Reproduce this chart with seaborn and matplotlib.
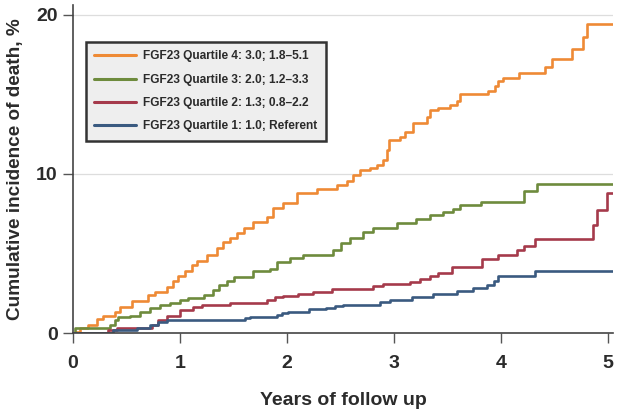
import numpy as np
import pandas as pd
import matplotlib
matplotlib.use("Agg")
import matplotlib.pyplot as plt
import seaborn as sns

labels = [
    "FGF23 Quartile 4: 3.0; 1.8\u20135.1",
    "FGF23 Quartile 3: 2.0; 1.2\u20133.3",
    "FGF23 Quartile 2: 1.3; 0.8\u20132.2",
    "FGF23 Quartile 1: 1.0; Referent",
]
colors = ["#EE8A35", "#6E8B3D", "#A53A4B", "#3A5A80"]

q4_t = [0.0, 0.02, 0.065, 0.14, 0.22, 0.28, 0.39, 0.44, 0.55, 0.70, 0.77, 0.88, 0.93, 0.98,
        1.05, 1.11, 1.16, 1.25, 1.35, 1.40, 1.47, 1.53, 1.60, 1.68, 1.81, 1.87, 1.96, 2.09,
        2.28, 2.47, 2.56, 2.62, 2.68, 2.78, 2.84, 2.90, 2.93, 2.95, 3.06, 3.10, 3.18, 3.31,
        3.34, 3.41, 3.52, 3.59, 3.62, 3.88, 3.94, 3.97, 4.02, 4.17, 4.41, 4.48, 4.66, 4.77,
        4.80, 5.05]
q4_v = [0.0, 0.1, 0.35, 0.5, 0.9, 1.05, 1.3, 1.65, 2.0, 2.4, 2.6, 2.9, 3.25, 3.6,
        3.9, 4.25, 4.5, 4.9, 5.35, 5.7, 6.0, 6.3, 6.6, 7.0, 7.3, 7.85, 8.2, 8.8,
        9.05, 9.3, 9.55, 9.9, 10.25, 10.4, 10.55, 10.9, 11.5, 12.1, 12.3, 12.6, 13.2, 13.6,
        14.0, 14.15, 14.3, 14.6, 15.0, 15.2, 15.5, 15.8, 16.0, 16.35, 16.7, 17.2, 17.85, 18.6,
        19.4, 19.4]

q3_t = [0.0, 0.02, 0.35, 0.39, 0.42, 0.53, 0.63, 0.72, 0.81, 0.91, 1.00, 1.07, 1.22, 1.31,
        1.36, 1.44, 1.50, 1.68, 1.84, 1.91, 2.03, 2.15, 2.43, 2.50, 2.59, 2.71, 2.80, 3.03,
        3.21, 3.34, 3.46, 3.55, 3.62, 3.81, 4.21, 4.34, 5.05]
q3_v = [0.0, 0.3, 0.5, 0.8, 1.0, 1.1, 1.3, 1.55, 1.75, 1.9, 2.1, 2.2, 2.4, 2.7,
        3.0, 3.3, 3.5, 3.9, 4.0, 4.45, 4.7, 4.9, 5.2, 5.65, 6.0, 6.35, 6.6, 6.9,
        7.15, 7.4, 7.6, 7.8, 8.05, 8.25, 8.95, 9.35, 9.35]

q2_t = [0.0, 0.33, 0.41, 0.74, 0.79, 0.88, 1.00, 1.12, 1.21, 1.47, 1.81, 1.89, 1.96, 2.10,
        2.24, 2.42, 2.80, 2.90, 3.15, 3.24, 3.34, 3.41, 3.54, 3.82, 3.97, 4.15, 4.21, 4.32,
        4.86, 4.90, 4.99, 5.05]
q2_v = [0.0, 0.2, 0.3, 0.5, 0.8, 1.1, 1.45, 1.65, 1.75, 1.9, 2.1, 2.25, 2.35, 2.45,
        2.6, 2.75, 2.95, 3.1, 3.2, 3.4, 3.6, 3.75, 4.15, 4.65, 4.9, 5.2, 5.5, 5.9,
        6.8, 7.75, 8.8, 8.8]

q1_t = [0.0, 0.37, 0.60, 0.72, 0.79, 0.88, 1.61, 1.65, 1.91, 1.95, 2.01, 2.21, 2.36, 2.45,
        2.52, 2.87, 2.96, 3.17, 3.36, 3.59, 3.74, 3.87, 3.93, 3.97, 4.32, 5.05]
q1_v = [0.0, 0.2, 0.35, 0.5, 0.7, 0.8, 0.95, 1.0, 1.15, 1.25, 1.3, 1.5, 1.55, 1.7,
        1.8, 1.95, 2.1, 2.25, 2.45, 2.65, 2.85, 3.05, 3.3, 3.6, 3.9, 3.9]

x_ticks = [0, 1, 2, 3, 4, 5]
y_ticks = [0, 10, 20]

frames = []
for lab, t, v in zip(labels, [q4_t, q3_t, q2_t, q1_t], [q4_v, q3_v, q2_v, q1_v]):
    frames.append(pd.DataFrame({"years": t, "inc": v, "group": lab}))
df = pd.concat(frames, ignore_index=True)

sns.set_theme(style="white")
plt.rcParams["font.family"] = ["Liberation Sans", "DejaVu Sans"]
text_color = "#2b2b2b"

fig = plt.figure(figsize=(6.24, 4.17), dpi=100)
ax = fig.add_axes([0.117, 0.201, 0.866, 0.787])

for y in [10, 20]:
    ax.axhline(y, color="#dddddd", lw=0.9, zorder=0)

sns.lineplot(data=df, x="years", y="inc", hue="group", hue_order=labels,
             palette=colors, estimator=None, sort=False, drawstyle="steps-post",
             linewidth=1.9, ax=ax)

ax.set_xlim(0, 5.05)
ax.set_ylim(0, 20.6)
ax.set_xticks(x_ticks)
ax.set_yticks(y_ticks)
ax.set_xticklabels([str(v) for v in x_ticks], fontsize=14, fontweight="bold", color=text_color)
ax.set_yticklabels([str(v) for v in y_ticks], fontsize=14, fontweight="bold", color=text_color)
ax.tick_params(axis="both", direction="out", length=7, width=1, color="#555555")
ax.tick_params(axis="x", bottom=True, pad=9)
ax.tick_params(axis="y", left=True, pad=4)
for s in ["top", "right"]:
    ax.spines[s].set_visible(False)
for s in ["left", "bottom"]:
    ax.spines[s].set_color("#444444")
    ax.spines[s].set_linewidth(1.2)

ax.set_xlabel("Years of follow up", fontsize=14, fontweight="bold", color=text_color, labelpad=14)
ax.set_ylabel("Cumulative incidence of death, %", fontsize=13.7, fontweight="bold", color=text_color, labelpad=9)

leg = ax.legend(loc="upper left", bbox_to_anchor=(0.024, 0.887), frameon=True, fancybox=False,
                handlelength=3.5, handletextpad=0.6, borderpad=0.7, borderaxespad=0,
                labelspacing=0.95, prop={"size": 8.6, "weight": "bold"})
leg.get_frame().set_facecolor("#eeeeee")
leg.get_frame().set_edgecolor("#333333")
leg.get_frame().set_linewidth(1.8)
leg.get_frame().set_alpha(1)
for t in leg.get_texts():
    t.set_color(text_color)
for h in leg.get_lines():
    h.set_linewidth(2.2)

fig.savefig("out.png", dpi=100)
